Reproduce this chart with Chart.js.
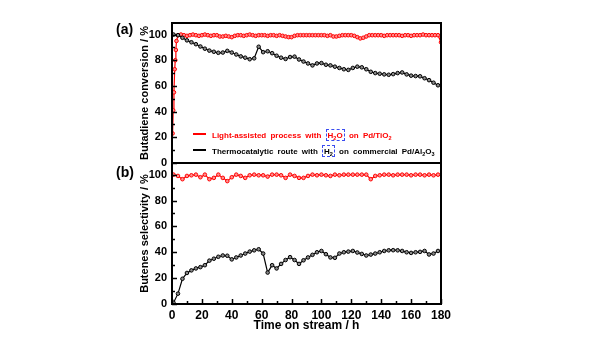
<!DOCTYPE html>
<html>
<head>
<meta charset="utf-8">
<script src="https://cdn.jsdelivr.net/npm/chart.js@4.4.0/dist/chart.umd.min.js"></script>
<style>
body{margin:0;background:#fff;}
#wrap{position:relative;width:600px;height:338px;overflow:hidden;}
#wrap canvas{position:absolute;left:0;top:0;}
.pl{position:absolute;font:bold 14px "Liberation Sans",Arial,sans-serif;color:#000;}
.lg{position:absolute;font:bold 8px "Liberation Sans",Arial,sans-serif;white-space:nowrap;word-spacing:2px;line-height:10px;}
.lg sub{font-size:5.5px;vertical-align:-2px;line-height:0;}
.ln{display:inline-block;width:13px;height:2px;vertical-align:3px;margin-right:6px;}
.bx{border:1.5px dashed #3a4cf0;padding:1px 1px 0 1px;}
</style>
</head>
<body>
<div id="wrap">
  <canvas id="chartA" width="600" height="338"></canvas>
  <canvas id="chartB" width="600" height="338"></canvas>
  <div class="pl" style="left:116px;top:21px">(a)</div>
  <div class="pl" style="left:116px;top:164px">(b)</div>
  <div class="lg" style="left:193px;top:131px;color:#ff0000"><span class="ln" style="background:#ff0000"></span>Light-assisted process with <span class="bx">H<sub>2</sub>O</span> on Pd/TiO<sub>2</sub></div>
  <div class="lg" style="left:193px;top:147px;color:#000"><span class="ln" style="background:#000"></span>Thermocatalytic route with <span class="bx">H<sub>2</sub></span> on commercial Pd/Al<sub>2</sub>O<sub>3</sub></div>
</div>
<script>
// time on stream (h)
var hoursRedA = [0.4,0.8,1.3,1.8,2.2,2.6,3,
  4,6,8,10,12,14,16,18,20,22,24,26,28,30,
  32,34,36,38,40,42,44,46,48,50,52,54,56,58,60,
  62,64,66,68,70,72,74,76,78,80,82,84,86,88,90,
  92,94,96,98,100,102,104,106,108,110,112,114,116,118,120,
  122,124,126,128,130,132,134,136,138,140,142,144,146,148,150,
  152,154,156,158,160,162,164,166,168,170,172,174,176,178,180];
var hours3 = [1,4,7,10,13,16,19,22,25,28,31,34,37,40,43,46,49,52,55,58,
  61,64,67,70,73,76,79,82,85,88,91,94,97,100,103,106,109,112,115,118,
  121,124,127,130,133,136,139,142,145,148,151,154,157,160,163,166,169,172,175,178];

// (a) butadiene conversion / %
var convRed = [23,41,55,73,80,88,95,
  99.5,100,99.5,99,99.5,100,99.5,99,99.5,100,99.5,99,99.5,99.5,
  98.5,98.5,99,98.5,98,99,99.5,99.5,99,99.5,100,99.5,99,99.5,99.5,
  99.5,99,99.5,99.5,99,99.5,99,98.5,98,98,99,99.5,99.5,99.5,99.5,
  99.5,99.5,99.5,99.5,99.5,99.5,99,99.5,98.5,98.5,99,99.5,99.5,99.5,99.5,
  99,98,97,97.5,98.5,99.5,99.5,99.5,99.5,99.5,99,99.5,99.5,99.5,99.5,
  99.5,99,99.5,99.5,99,99.5,99.5,99.5,100,99.5,99.5,99.5,99.5,99.5,94];
var convBlack = [100,99.5,97.5,95.5,94,92.5,90.7,89,87.5,86.6,
  85.8,86,87.3,86,84.5,83,82,80.8,81.5,90.5,
  86.3,87,85.5,83.5,82,81,82.5,82.8,80.6,79,
  77.5,76,77.5,77.8,76.5,76,75,74,73,72.5,
  74,75,74.5,73,71,70,69.5,69,68.7,69.2,
  70,70.5,69,68,67.7,67.5,66,64.5,62.5,60.5];

// (b) butenes selectivity / %
var selRed = [100,99,96.5,99,99.5,100,98,100,96.5,97.5,
  100,97.5,95,98,100,99,97.5,99.5,100,99.5,
  99.5,98.5,100,100,99.5,97.5,100,99,97.5,97.5,
  99,100,99.5,100,99.5,99,100,99.5,100,100,
  100,100,100,100,96.5,99,99.5,100,100,99.5,
  100,100,100,99.5,100,100,99.5,100,99.5,100];
var selBlack = [1,8,19.5,24,26,27.5,28.5,30,33.5,35,
  36.5,37.5,37.3,34.5,36,37.5,39,40.5,41.5,42.3,
  39,24.3,30,27.5,31,34,36.2,34,31,33.8,
  36,38,40,41,38.5,36,35.7,39,40,40.5,
  41,39.8,38.7,37.5,38.2,39,40,41,41.5,41.6,
  41.5,41,40,39.5,40,40.3,41,38.3,39,41];

var xTicks = [0,20,40,60,80,100,120,140,160,180];
var xMinor = [10,30,50,70,90,110,130,150,170];
var yTicks = [0,20,40,60,80,100];
var yMinor = [10,30,50,70,90];

function pts(xs, ys){
    var out = [];
    for(var i=0;i<xs.length;i++){ out.push({x:xs[i], y:ys[i]}); }
    return out;
}

var fontFam = '"Liberation Sans", Arial, sans-serif';

function serie(label, data, col, fill){
    return {
        label: label,
        data: data,
        borderColor: col,
        backgroundColor: fill,
        pointBorderColor: col,
        pointBackgroundColor: fill,
        pointRadius: 1.8,
        pointBorderWidth: 1,
        borderWidth: 1.2,
        tension: 0
    };
}

// frame + inward ticks
var frame = {
    id: 'frame',
    afterDraw: function(chart){
        var ctx = chart.ctx, a = chart.chartArea;
        var sx = chart.scales.x, sy = chart.scales.y;
        ctx.save();
        ctx.strokeStyle = '#000';
        ctx.lineWidth = 1.5;
        yTicks.forEach(function(v){
            var p = Math.round(sy.getPixelForValue(v)) + 0.5;
            ctx.beginPath(); ctx.moveTo(a.left, p); ctx.lineTo(a.left + 5, p); ctx.stroke();
        });
        yMinor.forEach(function(v){
            var p = Math.round(sy.getPixelForValue(v)) + 0.5;
            ctx.beginPath(); ctx.moveTo(a.left, p); ctx.lineTo(a.left + 3, p); ctx.stroke();
        });
        if(chart.options.scales.x.display){
            xTicks.forEach(function(v){
                var p = Math.round(sx.getPixelForValue(v)) + 0.5;
                ctx.beginPath(); ctx.moveTo(p, a.bottom); ctx.lineTo(p, a.bottom - 5); ctx.stroke();
            });
            xMinor.forEach(function(v){
                var p = Math.round(sx.getPixelForValue(v)) + 0.5;
                ctx.beginPath(); ctx.moveTo(p, a.bottom); ctx.lineTo(p, a.bottom - 3); ctx.stroke();
            });
        }
        ctx.lineWidth = 2;
        ctx.strokeRect(a.left, a.top, a.right - a.left, a.bottom - a.top);
        ctx.restore();
    }
};

function opts(top, bottom, title, showX){
    return {
        responsive: false,
        animation: false,
        devicePixelRatio: 1,
        layout: { padding: { left: 134, right: 159, top: top, bottom: bottom } },
        plugins: { legend: { display: false }, tooltip: { enabled: false } },
        scales: {
            x: {
                type: 'linear', min: 0, max: 180,
                display: showX,
                afterBuildTicks: function(s){ s.ticks = xTicks.map(function(v){ return {value:v}; }); },
                afterFit: function(s){ s.height = showX ? 33 : 0; },
                grid: { display: false, drawTicks: false },
                border: { display: false },
                ticks: { padding: 4, color: '#000', maxRotation: 0, font: { family: fontFam, size: 12, weight: 'bold' } },
                title: { display: true, text: 'Time on stream / h', color: '#000', padding: 4,
                         font: { family: fontFam, size: 12, weight: 'bold' } }
            },
            y: {
                min: 0, max: 109,
                afterBuildTicks: function(s){ s.ticks = yTicks.map(function(v){ return {value:v}; }); },
                afterFit: function(s){ s.width = 38; },
                grid: { display: false, drawTicks: false },
                border: { display: false },
                ticks: { padding: 5, color: '#000', font: { family: fontFam, size: 11, weight: 'bold' } },
                title: { display: true, text: title, color: '#000', padding: 4,
                         font: { family: fontFam, size: 11, weight: 'bold' } }
            }
        }
    };
}

new Chart(document.getElementById('chartA'), {
    type: 'line',
    data: {
        datasets: [
            serie('Thermocatalytic route', pts(hours3, convBlack), '#000000', '#8a8a8a'),
            serie('Light-assisted process', pts(hoursRedA, convRed), '#ff0000', '#ff9090')
        ]
    },
    options: opts(23, 175, 'Butadiene conversion / %', false),
    plugins: [frame]
});

new Chart(document.getElementById('chartB'), {
    type: 'line',
    data: {
        datasets: [
            serie('Thermocatalytic route', pts(hours3, selBlack), '#000000', '#8a8a8a'),
            serie('Light-assisted process', pts(hours3, selRed), '#ff0000', '#ff9090')
        ]
    },
    options: opts(163, 1, 'Butenes selectivity / %', true),
    plugins: [frame]
});
</script>
</body>
</html>
